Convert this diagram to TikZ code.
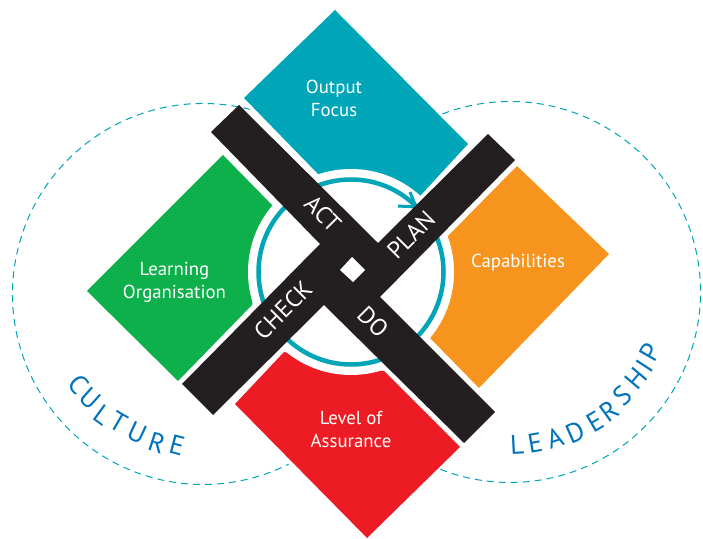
\documentclass[tikz,border=0pt]{standalone}
\usepackage{fontspec}
\setmainfont{PT Sans}
\definecolor{cteal}{HTML}{00A5B8}
\definecolor{cgreen}{HTML}{0DB04B}
\definecolor{corange}{HTML}{F7941E}
\definecolor{cred}{HTML}{ED1C24}
\definecolor{cbar}{HTML}{231F20}
\definecolor{cblue}{HTML}{0072BC}
\tikzset{
  lbl/.style={text=white,font=\fontsize{18.8}{23.5}\selectfont,inner sep=0pt},
  pdca/.style={text=white,font=\fontsize{24}{24}\selectfont,inner sep=0pt},
  ltr/.style={text=cblue,font=\fontsize{27}{27}\selectfont,inner sep=0pt},
  dashring/.style={draw=cteal,line width=1pt,dash pattern=on 7pt off 5pt}
}
\begin{document}
\begin{tikzpicture}[x=1pt,y=1pt]
\useasboundingbox (0,0) rectangle (703,538);
% dashed arcs
\draw[dashring] (203,244) ++(75.7:190.5) arc[start angle=75.7,end angle=296.7,radius=190.5pt];
\draw[dashring] (510,246) ++(110.8:190.5) arc[start angle=110.8,end angle=-112,radius=190.5pt];
% quadrants
\fill[cteal] (335,528)--(468,394)--(420,342)--(318,364)--(244,440)--cycle;
\fill[cgreen] (223,383)--(273,332)--(252,233)--(178,157)--(87,247)--cycle;
\fill[corange] (517,372)--(609,284)--(479,150)--(430,200)--(447,301)--cycle;
\fill[cred] (284,186)--(384,167)--(460,91)--(367,0)--(235,134)--cycle;
% disc and ring
\fill[white] (351,266) circle[radius=103pt];
\draw[cteal,line width=4.5pt] (351,266) circle[radius=92.5pt];
\draw[cteal,line width=3pt] (398,332)--(416,331)--(410,346);
% pinwheel cross
\fill[cbar] (239,433)--(378,295)--(488,404)--(515,378)--(380,241)--(495,126)--(464,95)--(324,233)--(213,123)--(182,154)--(320,294)--(211,406)--cycle;
\fill[white] (352,281)--(365,268)--(353,256)--(340,268)--cycle;
% labels
\node[lbl,align=center] (out) at (334,439.5) {Output\\Focus};
\node[lbl,align=center] (learn) at (174.5,255.5) {Learning\\Organisation};
\node[lbl] (cap) at (518,275.5) {Capabilities};
\node[lbl,align=center] (lev) at (351,108.5) {Level of\\Assurance};
\node[pdca,rotate=-45] (act) at (323,324) {ACT};
\node[pdca,rotate=45] (plan) at (411,303) {PLAN};
\node[pdca,rotate=45] (check) at (283,228) {CHECK};
\node[pdca,rotate=-45] (do) at (373,216) {DO};
% CULTURE
\node[ltr,rotate=-50] (c1) at (79,154) {C};
\node[ltr,rotate=-42] (c2) at (90,140) {U};
\node[ltr,rotate=-36] (c3) at (103,123) {L};
\node[ltr,rotate=-30] (c4) at (119,116) {T};
\node[ltr,rotate=-25] (c5) at (137,105) {U};
\node[ltr,rotate=-18] (c6) at (157,95) {R};
\node[ltr,rotate=-15] (c7) at (177,93) {E};
% LEADERSHIP
\node[ltr,rotate=3] (l1) at (517,93) {L};
\node[ltr,rotate=10] (l2) at (535,95) {E};
\node[ltr,rotate=18] (l3) at (555,100) {A};
\node[ltr,rotate=24] (l4) at (575,106) {D};
\node[ltr,rotate=30] (l5) at (595,116) {E};
\node[ltr,rotate=36] (l6) at (609,127) {R};
\node[ltr,rotate=42] (l7) at (622,142) {S};
\node[ltr,rotate=50] (l8) at (636,160) {H};
\node[ltr,rotate=57] (l9) at (645,172) {I};
\node[ltr,rotate=60] (l10) at (650,186) {P};
\end{tikzpicture}
\end{document}
